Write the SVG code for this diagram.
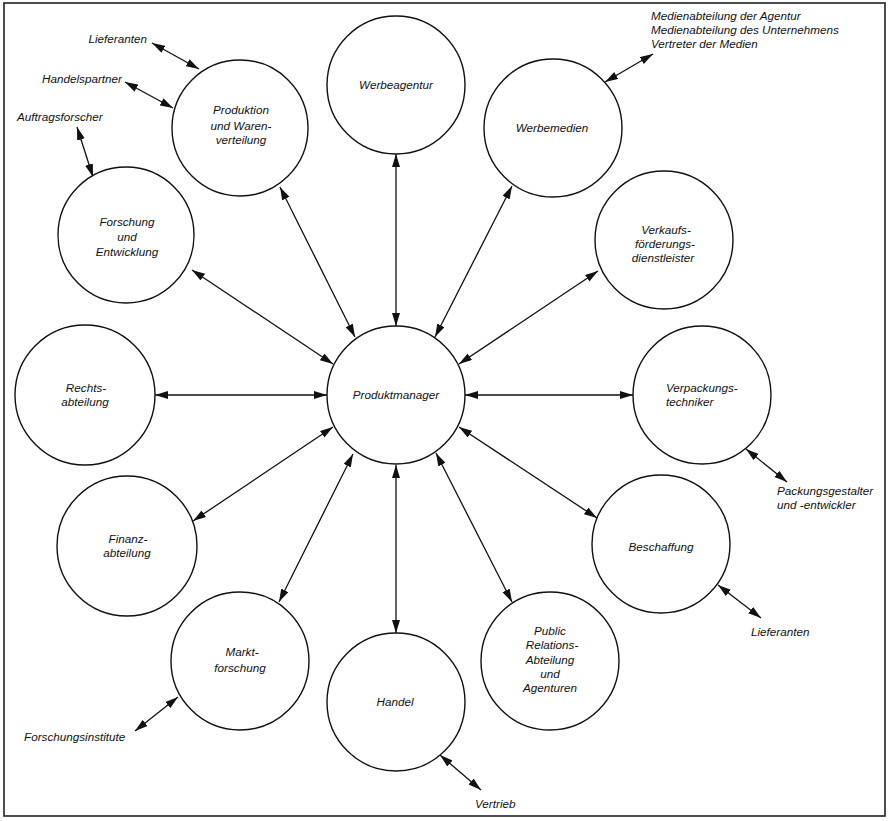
<svg xmlns="http://www.w3.org/2000/svg" width="890" height="821" viewBox="0 0 890 821">
<style>
text{font-family:"Liberation Sans",Arial,sans-serif;font-style:italic;font-size:11.7px;fill:#111}
.c{text-anchor:middle}
.n circle{fill:#fff;stroke:#111;stroke-width:1.4}
#connectors line{stroke:#111;stroke-width:1.3;marker-start:url(#ah);marker-end:url(#ah)}
</style>
<defs>
<marker id="ah" markerUnits="userSpaceOnUse" markerWidth="14" markerHeight="9" refX="13" refY="4" orient="auto-start-reverse"><path d="M0,0 L13,4 L0,8 z" fill="#111"/></marker>
</defs>
<rect x="4" y="3" width="881" height="813" fill="#fff" stroke="#222" stroke-width="1.6"/>
<g id="connectors">
<line x1="396" y1="326" x2="396" y2="154"/>
<line x1="435" y1="337" x2="512" y2="186"/>
<line x1="459" y1="364" x2="598" y2="271"/>
<line x1="465" y1="395" x2="633" y2="395"/>
<line x1="459" y1="427" x2="597" y2="518"/>
<line x1="436" y1="453" x2="512" y2="602"/>
<line x1="396" y1="465" x2="396" y2="633"/>
<line x1="353" y1="454" x2="279" y2="602"/>
<line x1="333" y1="427" x2="193" y2="521"/>
<line x1="327" y1="395" x2="155" y2="395"/>
<line x1="333" y1="364" x2="192" y2="270"/>
<line x1="355" y1="337" x2="280" y2="187"/>
<line x1="152" y1="43" x2="199" y2="69"/>
<line x1="125" y1="82" x2="173" y2="108"/>
<line x1="77" y1="127" x2="93" y2="177"/>
<line x1="605" y1="82" x2="653" y2="54"/>
<line x1="746" y1="449" x2="787" y2="482"/>
<line x1="718" y1="585" x2="761" y2="618"/>
<line x1="440" y1="755" x2="481" y2="790"/>
<line x1="178" y1="697" x2="135" y2="731"/>
</g>
<g id="n-produktmanager" class="n"><circle cx="396" cy="395" r="69"/><text class="c" x="396" y="399">Produktmanager</text></g>
<g id="n-werbeagentur" class="n"><circle cx="396" cy="85" r="69"/><text class="c" x="396" y="89">Werbeagentur</text></g>
<g id="n-werbemedien" class="n"><circle cx="553" cy="128" r="69"/><text class="c" x="552" y="132">Werbemedien</text></g>
<g id="n-verkaufs" class="n"><circle cx="664" cy="240" r="69"/><text class="c" x="666" y="234">Verkaufs-</text><text class="c" x="665" y="248">förderungs-</text><text class="c" x="663" y="262">dienstleister</text></g>
<g id="n-verpackung" class="n"><circle cx="702" cy="395" r="69"/><text x="666" y="392">Verpackungs-</text><text x="666" y="406">techniker</text></g>
<g id="n-beschaffung" class="n"><circle cx="661" cy="544" r="69"/><text class="c" x="661" y="551">Beschaffung</text></g>
<g id="n-pr" class="n"><circle cx="550" cy="661" r="69"/><text class="c" x="550" y="635">Public</text><text class="c" x="552" y="649">Relations-</text><text class="c" x="550" y="664">Abteilung</text><text class="c" x="550" y="678">und</text><text class="c" x="550" y="692">Agenturen</text></g>
<g id="n-handel" class="n"><circle cx="396" cy="702" r="69"/><text class="c" x="395" y="706">Handel</text></g>
<g id="n-marktforschung" class="n"><circle cx="240" cy="661" r="69"/><text class="c" x="242" y="656">Markt-</text><text class="c" x="240" y="672">forschung</text></g>
<g id="n-finanz" class="n"><circle cx="127" cy="546" r="70"/><text class="c" x="128" y="543">Finanz-</text><text class="c" x="127" y="557">abteilung</text></g>
<g id="n-rechts" class="n"><circle cx="85" cy="395" r="70"/><text class="c" x="86" y="392">Rechts-</text><text class="c" x="85" y="406">abteilung</text></g>
<g id="n-forschung" class="n"><circle cx="126" cy="235" r="68"/><text class="c" x="127" y="226">Forschung</text><text class="c" x="127" y="241">und</text><text class="c" x="127" y="256">Entwicklung</text></g>
<g id="n-produktion" class="n"><circle cx="240" cy="128" r="68"/><text class="c" x="241" y="114">Produktion</text><text class="c" x="241" y="130">und Waren-</text><text class="c" x="241" y="144">verteilung</text></g>
<g id="labels">
<text x="147" y="43" text-anchor="end">Lieferanten</text>
<text x="122" y="83" text-anchor="end">Handelspartner</text>
<text x="17" y="121">Auftragsforscher</text>
<text x="651" y="20">Medienabteilung der Agentur</text>
<text x="651" y="34">Medienabteilung des Unternehmens</text>
<text x="651" y="48">Vertreter der Medien</text>
<text x="777" y="495">Packungsgestalter</text>
<text x="777" y="509">und -entwickler</text>
<text x="751" y="636">Lieferanten</text>
<text x="475" y="808">Vertrieb</text>
<text x="24" y="741">Forschungsinstitute</text>
</g>
</svg>
